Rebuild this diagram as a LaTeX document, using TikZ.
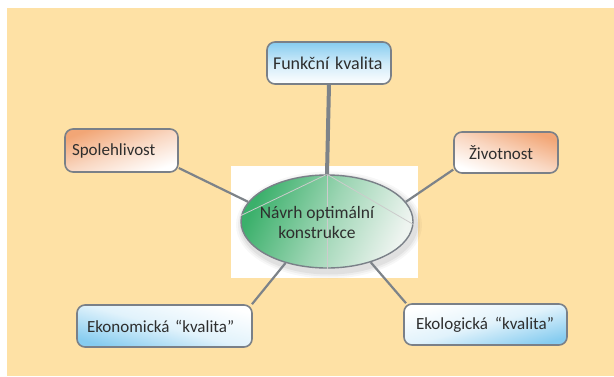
\documentclass[tikz,border=0pt]{standalone}
\usepackage{fontspec}
\setmainfont{Carlito}
\usetikzlibrary{shapes.geometric}
\definecolor{bgc}{HTML}{FEE1A5}
\definecolor{bordc}{HTML}{7A8088}
\definecolor{linec}{HTML}{7D8389}
\definecolor{bluec}{HTML}{86CCF0}
\definecolor{orc}{HTML}{F2A676}
\definecolor{grc}{HTML}{3BB06B}
\definecolor{grl}{HTML}{EEF4F0}
\definecolor{txt}{HTML}{2E2E2E}
\tikzset{
  box/.style={draw=bordc, line width=1.6pt, rounded corners=8pt, text=txt,
    font=\fontsize{17}{20}\selectfont, inner sep=0pt, align=left},
  conn/.style={draw=linec, line width=2.2pt},
}
\begin{document}
\begin{tikzpicture}[x=1pt,y=-1pt]
\useasboundingbox (0,0) rectangle (614,376);
\fill[bgc] (7,8) rectangle (614,376);
\fill[white] (231,166) rectangle (418,278);
% soft shadow
\foreach \s/\o in {7/0.03,5/0.04,3/0.05}{
  \fill[black,opacity=\o] (329,225) ellipse ({86+\s} and {46.5+\s});
}
\node[ellipse, draw=bordc, line width=1.4pt, minimum width=172pt, minimum height=93pt,
  left color=grc, right color=grl, middle color=grc!45!grl, shading angle=65, inner sep=0pt] (ell) at (327,221.5) {};
\draw[color=white!60!gray, line width=0.8pt] (ell.north) -- (ell.176);
\draw[color=white!60!gray, line width=0.8pt] (ell.north) -- (ell.-2);
\draw[color=white!60!gray, line width=0.8pt] (ell.north) -- (ell.south);
\node[text=txt, align=center, font=\fontsize{17.5}{20}\selectfont] (elltext) at (317,222) {Návrh optimální\\konstrukce};
\node[box, font=\fontsize{18}{20}\selectfont, minimum width=124pt, minimum height=42pt, text width=112pt, top color=bluec, bottom color=white, middle color=bluec!40!white] (fk) at (329,63) {\mbox{Funkční kvalita}};
\node[box, minimum width=113pt, minimum height=43pt, text width=99pt, top color=orc, bottom color=white, middle color=orc!45!white, shading angle=20] (spol) at (121.5,150.5) {\mbox{Spolehlivost}};
\node[box, minimum width=104pt, minimum height=41pt, text width=74pt, top color=orc, bottom color=white, middle color=orc!45!white, shading angle=-20] (ziv) at (506,152.5) {\mbox{Životnost}};
\node[box, minimum width=175pt, minimum height=42pt, text width=155pt, top color=white, bottom color=bluec, middle color=bluec!25!white, shading angle=-15] (ekon) at (164.5,326) {\mbox{Ekonomická “kvalita”}};
\node[box, minimum width=163pt, minimum height=41pt, text width=139pt, top color=white, bottom color=bluec, middle color=bluec!25!white, shading angle=15] (ekol) at (485.5,324.5) {\mbox{Ekologická\hspace{7pt}“kvalita”}};
\draw[conn, line width=4pt] (fk.south) -- (ell.north);
\draw[conn] (spol.-17) -- (ell.166);
\draw[conn] (ziv.198) -- (ell.14);
\draw[conn] (ekon.14) -- (ell.225);
\draw[conn] (ekol.165) -- (ell.-43);
\end{tikzpicture}
\end{document}
